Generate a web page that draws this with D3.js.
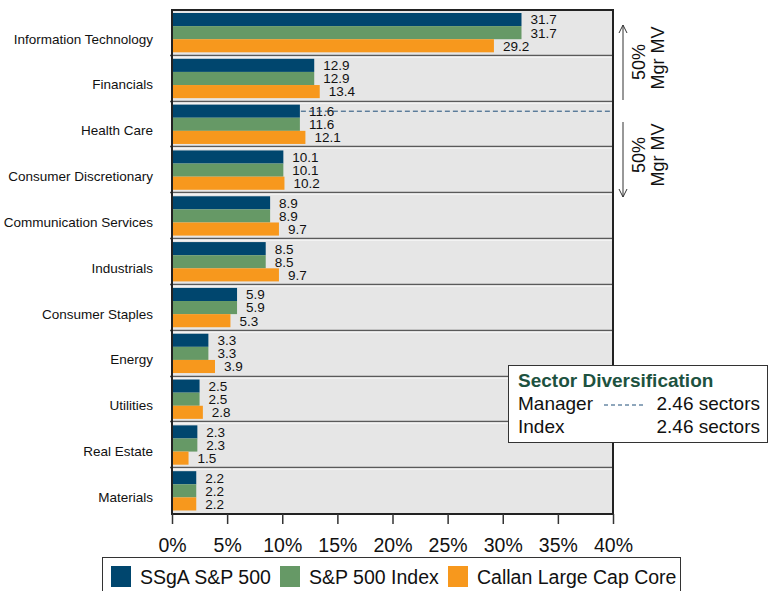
<!DOCTYPE html>
<html><head><meta charset="utf-8">
<script src="https://cdn.jsdelivr.net/npm/d3@7"></script>
<style>body{margin:0;background:#fff}svg{display:block;font-family:"Liberation Sans",Arial,sans-serif}</style>
</head><body><svg id="c" width="769" height="591"></svg>
<script>
const categories = ["Information Technology","Financials","Health Care","Consumer Discretionary","Communication Services","Industrials","Consumer Staples","Energy","Utilities","Real Estate","Materials"];
const seriesNames = ["SSgA S&P 500","S&P 500 Index","Callan Large Cap Core"];
const ssga = [31.7,12.9,11.6,10.1,8.9,8.5,5.9,3.3,2.5,2.3,2.2];
const sp500 = [31.7,12.9,11.6,10.1,8.9,8.5,5.9,3.3,2.5,2.3,2.2];
const callan = [29.2,13.4,12.1,10.2,9.7,9.7,5.3,3.9,2.8,1.5,2.2];
const colors = ["#00466e","#669966","#f7981d"];
const xTicks = [0,5,10,15,20,25,30,35,40];
const managerDiv = "2.46 sectors", indexDiv = "2.46 sectors";
const dashedCategory = "Health Care";

const series = [ssga, sp500, callan];
const svg = d3.select("#c");
const L = 172, R = 613, T = 10, B = 514;
const x = d3.scaleLinear().domain([0,40]).range([L,R]);
const y = d3.scaleBand().domain(categories).range([T,B]).paddingInner(0);
const yi = d3.scaleBand().domain([0,1,2]).range([3, y.bandwidth()-3.5]).padding(0);

svg.append("rect").attr("x",L).attr("y",T).attr("width",R-L).attr("height",B-T).attr("fill","#e6e6e6");

// separators
categories.slice(1).forEach(c=>{
  const yy = Math.round(y(c));
  svg.append("line").attr("x1",L-2).attr("x2",R).attr("y1",yy-0.5).attr("y2",yy-0.5).attr("stroke","#5a5a5a").attr("stroke-width",1.4);
  svg.append("line").attr("x1",L+1).attr("x2",R).attr("y1",yy+1).attr("y2",yy+1).attr("stroke","#ffffff").attr("stroke-width",1.2);
});

// bars
const g = svg.append("g");
categories.forEach((c,i)=>{
  series.forEach((s,j)=>{
    const v = s[i];
    g.append("rect").attr("x",x(0)).attr("y",y(c)+yi(j)).attr("width",x(v)-x(0)).attr("height",yi.bandwidth())
      .attr("fill",colors[j]);
    g.append("text").attr("x",x(v)+9).attr("y",y(c)+yi(j)+yi.bandwidth()/2).attr("dy","0.36em")
      .attr("font-size",13.5).attr("fill","#111").text(v.toFixed(1));
  });
});

// dashed line
const di = categories.indexOf(dashedCategory);
const dy = y(dashedCategory)+yi(0)+yi.bandwidth()/2;
svg.append("line").attr("x1",x(ssga[di])+1).attr("x2",R).attr("y1",dy).attr("y2",dy)
  .attr("stroke","#1f4e79").attr("stroke-width",1).attr("stroke-dasharray","5,3");

// border
svg.append("rect").attr("x",L).attr("y",T).attr("width",R-L).attr("height",B-T).attr("fill","none").attr("stroke","#222").attr("stroke-width",2);

// category labels
categories.forEach(c=>{
  svg.append("text").attr("x",153).attr("y",y(c)+y.bandwidth()/2+6).attr("dy","0.35em").attr("text-anchor","end")
    .attr("font-size",13.5).attr("fill","#111").text(c);
});

// x axis
const xa = svg.append("g").attr("transform",`translate(0,${B})`)
  .call(d3.axisBottom(x).tickValues(xTicks).tickSize(10).tickFormat(d=>d+"%"));
xa.select(".domain").remove();
xa.selectAll(".tick line").attr("stroke","#333").attr("stroke-width",1.5);
xa.selectAll(".tick text").attr("font-size",19.5).attr("fill","#111").attr("y",38).attr("dy",null).attr("font-family","Liberation Sans, Arial, sans-serif");

// arrows
const ax = 623;
function arrow(y1,y2,headAtTop){
  svg.append("line").attr("x1",ax).attr("x2",ax).attr("y1",y1).attr("y2",y2).attr("stroke","#333").attr("stroke-width",1);
  const hy = headAtTop? y1 : y2, s = headAtTop? 1 : -1;
  svg.append("path").attr("d",`M${ax-4},${hy+s*8}L${ax},${hy}L${ax+4},${hy+s*8}`).attr("fill","none").attr("stroke","#333").attr("stroke-width",1);
}
arrow(25,100,true);
arrow(122,197,false);
function rotText(cx,cy,t){
  svg.append("text").attr("transform",`translate(${cx},${cy}) rotate(-90)`).attr("text-anchor","middle").attr("dy","0.35em")
    .attr("font-size",18).attr("fill","#111").text(t);
}
rotText(639,62,"50%"); rotText(658,58,"Mgr MV");
rotText(639,155,"50%"); rotText(658,155,"Mgr MV");

// diversification box
svg.append("rect").attr("x",508.5).attr("y",365.5).attr("width",259).attr("height",77).attr("fill","#fff").attr("stroke","#333").attr("stroke-width",1);
svg.append("text").attr("x",518).attr("y",387).attr("font-size",19).attr("font-weight","bold").attr("fill","#1d5240").text("Sector Diversification");
svg.append("text").attr("x",518).attr("y",410).attr("font-size",19).attr("fill","#111").text("Manager");
svg.append("line").attr("x1",604).attr("x2",644).attr("y1",405).attr("y2",405).attr("stroke","#1f4e79").attr("stroke-width",1).attr("stroke-dasharray","4,3");
svg.append("text").attr("x",760).attr("y",410).attr("text-anchor","end").attr("font-size",19).attr("fill","#111").text(managerDiv);
svg.append("text").attr("x",518).attr("y",433).attr("font-size",19).attr("fill","#111").text("Index");
svg.append("text").attr("x",760).attr("y",433).attr("text-anchor","end").attr("font-size",19).attr("fill","#111").text(indexDiv);

// legend
svg.append("rect").attr("x",102.5).attr("y",557.5).attr("width",578).attr("height",40).attr("fill","#fff").attr("stroke","#333").attr("stroke-width",1);
const legX = [111, 280, 448];
seriesNames.forEach((n,j)=>{
  svg.append("rect").attr("x",legX[j]).attr("y",566).attr("width",20).attr("height",21).attr("fill",colors[j]);
  svg.append("text").attr("x",legX[j]+29).attr("y",577).attr("dy","0.35em").attr("font-size",19.5).attr("fill","#111").text(n);
});
</script></body></html>
